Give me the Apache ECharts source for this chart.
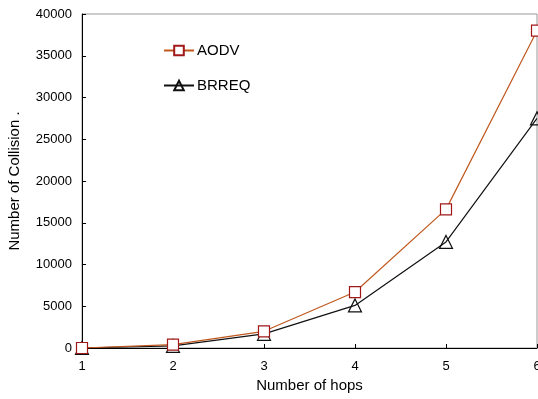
<!DOCTYPE html>
<html>
<head>
<meta charset="utf-8">
<script src="https://cdn.jsdelivr.net/npm/echarts@6/dist/echarts.min.js"></script>
<style>
  html, body { margin: 0; padding: 0; background: #fff; }
  #chart { width: 538px; height: 399px; }
</style>
</head>
<body>
<div id="chart"></div>
<script>
var hops = [1, 2, 3, 4, 5, 6];
var aodv = [0, 400, 2000, 6700, 16600, 38000];
var brreq = [0, 250, 1700, 5100, 12700, 27500];

function pairs(xs, ys) {
    return xs.map(function (x, i) { return [x, ys[i]]; });
}

var chart = echarts.init(document.getElementById('chart'));
var font = 'Liberation Sans, Arial, sans-serif';

var option = {
    animation: false,
    textStyle: { fontFamily: font },
    grid: {
        left: 82, right: 1, top: 14, bottom: 51,
        outerBoundsMode: 'none',
        containLabel: false,
        show: true, borderColor: '#999', borderWidth: 1
    },
    legend: {
        orient: 'vertical',
        left: 158, top: 38,
        itemGap: 20,
        itemWidth: 30, itemHeight: 12,
        textStyle: { fontSize: 15, color: '#000', fontFamily: font, padding: [0, 0, 0, -2] },
        data: ['AODV', 'BRREQ']
    },
    xAxis: {
        type: 'value',
        min: 1, max: 6, interval: 1,
        name: 'Number of hops',
        nameLocation: 'middle',
        nameGap: 30,
        nameTextStyle: { fontSize: 15, color: '#000' },
        axisLine: { lineStyle: { color: '#000' } },
        axisTick: { inside: true, length: 4, lineStyle: { color: '#000' } },
        axisLabel: { color: '#000', fontSize: 13, margin: 12 },
        splitLine: { show: false }
    },
    yAxis: {
        type: 'value',
        min: 0, max: 40000, interval: 5000,
        name: 'Number of Collision .',
        nameLocation: 'middle',
        nameGap: 60,
        nameTextStyle: { fontSize: 15, color: '#000' },
        axisLine: { show: true, lineStyle: { color: '#000' } },
        axisTick: { show: true, inside: true, length: 4, lineStyle: { color: '#000' } },
        axisLabel: { color: '#000', fontSize: 13, margin: 10, formatter: function (v) { return String(v); } },
        splitLine: { show: false }
    },
    series: [
        {
            name: 'AODV',
            type: 'line',
            data: pairs(hops, aodv),
            symbol: 'rect',
            symbolSize: 11,
            lineStyle: { color: '#c0581e', width: 1.2 },
            itemStyle: { color: '#fff', borderColor: '#a01818', borderWidth: 1.2 },
            z: 3
        },
        {
            name: 'BRREQ',
            type: 'line',
            data: pairs(hops, brreq),
            symbol: 'triangle',
            symbolSize: 13,
            lineStyle: { color: '#111', width: 1.2 },
            itemStyle: { color: 'rgba(255,255,255,0)', borderColor: '#111', borderWidth: 1.2 },
            z: 2
        }
    ]
};
chart.setOption(option);
</script>
</body>
</html>
